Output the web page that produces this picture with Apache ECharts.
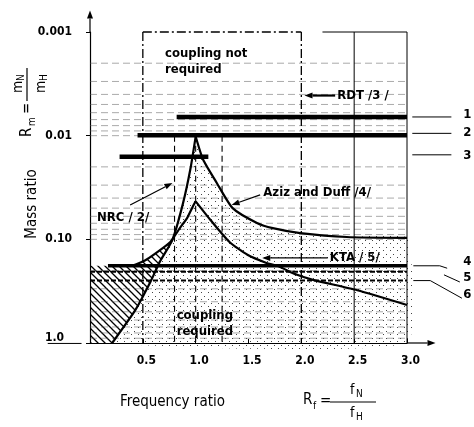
<!DOCTYPE html>
<html><head><meta charset="utf-8">
<script src="https://cdn.jsdelivr.net/npm/echarts/dist/echarts.min.js"></script>
<style>html,body{margin:0;padding:0;background:#fff}#c{width:474px;height:427px}</style>
</head><body><div id="c"></div>
<script>
// ---------------- data ----------------
const xTicks = [0.5, 1.0, 1.5, 2.0, 2.5, 3.0];
const yTicks = [0.001, 0.01, 0.1, 1.0];
const yTickLabels = ['0.001', '0.01', '0.10', '1.0'];

// horizontal criteria lines 1..6
const line1 = [[0.82, 0.0066], [3.0, 0.0066]];
const line2 = [[0.45, 0.0099], [3.0, 0.0099]];
const line3 = [[0.28, 0.016], [1.12, 0.016]];
const line4 = [[0.17, 0.18], [3.0, 0.18]];
const line5 = [[0.0, 0.205], [3.0, 0.205]];
const line6 = [[0.0, 0.25], [3.0, 0.25]];

// outer curve (NRC / Aziz and Duff)
const outerLeft = [[0.21, 1.0], [0.43, 0.48], [0.57, 0.26], [0.66, 0.165], [0.78, 0.101], [0.88, 0.045], [0.95, 0.021], [1.0, 0.0102]];
const outerRight = [[1.0, 0.0102], [1.07, 0.017], [1.20, 0.0286], [1.35, 0.050], [1.58, 0.0695], [1.73, 0.078], [1.99, 0.087], [2.43, 0.095], [3.0, 0.097]];
// inner curve (KTA)
const innerLeft = [[0.40, 0.18], [0.52, 0.16], [0.64, 0.132], [0.76, 0.106], [0.85, 0.078], [0.92, 0.062], [0.97, 0.049], [1.0, 0.043]];
const innerRight = [[1.0, 0.043], [1.14, 0.065], [1.32, 0.106], [1.49, 0.141], [1.67, 0.169], [1.77, 0.18], [1.96, 0.22], [2.11, 0.246], [2.53, 0.31], [3.0, 0.43]];

// hatched region boundary
const hatchPoly = [[0, 0.18], [0.40, 0.18], [0.52, 0.16], [0.64, 0.132], [0.77, 0.104], [0.66, 0.165], [0.57, 0.26], [0.43, 0.48], [0.21, 1.0], [0, 1.0]];

// log grid lines
const gridValues = [0.002, 0.003, 0.004, 0.005, 0.006, 0.007, 0.008, 0.009,
  0.01, 0.02, 0.03, 0.04, 0.05, 0.06, 0.07, 0.08, 0.09,
  0.1, 0.2, 0.3, 0.4, 0.5, 0.6, 0.7, 0.8, 0.9];
// vertical guide lines
const vDashDot = [0.5, 2.0];
const vThin = [2.5, 3.0];
const vDashed = [0.8, 1.0, 1.25];
const topDashDot = [[0.5, 0.001], [2.0, 0.001]];
const topThin = [[2.2, 0.001], [3.0, 0.001]];

// annotations
const noteTexts = ['coupling not', 'required', 'coupling', 'required', 'RDT /3 /', 'Aziz and Duff /4/', 'NRC / 2/', 'KTA / 5/'];
const notePos = [[0.71, 0.0016], [0.71, 0.0023], [0.82, 0.54], [0.82, 0.78], [2.34, 0.0041], [1.64, 0.0357], [0.066, 0.062], [2.27, 0.151]];
const arrows = [
  [[0.38, 0.0466], [0.78, 0.0286]],
  [[1.61, 0.0373], [1.34, 0.0466]],
  [[2.32, 0.0041], [2.03, 0.0041]],
  [[2.25, 0.151], [1.63, 0.151]],
  [[3.0, 1.0], [3.27, 1.0]],
  [[0, 0.001], [0, 0.00062]]
];
const numLabels = ['1', '2', '3', '4', '5', '6'];
const numPos = [[3.57, 0.0063], [3.57, 0.0094], [3.57, 0.0155], [3.57, 0.165], [3.57, 0.235], [3.57, 0.34]];
const leaders = [
  [[3.05, 0.0066], [3.42, 0.0066]],
  [[3.05, 0.0095], [3.42, 0.0095]],
  [[3.05, 0.0153], [3.42, 0.0153]],
  [[3.06, 0.18], [3.31, 0.18], [3.38, 0.19]],
  [[3.35, 0.22], [3.50, 0.258]],
  [[3.06, 0.25], [3.22, 0.25], [3.52, 0.37]],
  [[-0.40, 1.01], [-0.08, 1.01]]
];

// ---------------- rendering ----------------
const FONT = '"DejaVu Sans Condensed", "DejaVu Sans", sans-serif';

function makeHatch() {
  const c = document.createElement('canvas'); c.width = c.height = 7;
  const g = c.getContext('2d'); g.strokeStyle = '#000'; g.lineWidth = 1.3;
  g.beginPath(); g.moveTo(-1, -1); g.lineTo(8, 8); g.moveTo(-1, 6); g.lineTo(1, 8); g.moveTo(6, -1); g.lineTo(8, 1); g.stroke();
  return c;
}
function makeDots() {
  const c = document.createElement('canvas'); c.width = c.height = 7;
  const g = c.getContext('2d'); g.fillStyle = '#444';
  g.fillRect(1, 2, 1, 1); g.fillRect(5, 5, 1, 1);
  return c;
}
const hatchPattern = { image: makeHatch(), repeat: 'repeat' };
const dotPattern = { image: makeDots(), repeat: 'repeat' };
const stipplePoly = outerLeft.concat(outerRight.slice(1), [[3.0, 1.0]]);

function lineSeries(data, width, type, z) {
  return { type: 'line', data: data, symbol: 'none', silent: true, z: z || 5, animation: false,
    lineStyle: { color: '#000', width: width, type: type || 'solid' } };
}
function curveSeries(data) {
  return { type: 'line', data: data, symbol: 'none', silent: true, z: 6, animation: false, smooth: 0.2,
    lineStyle: { color: '#000', width: 2.2, join: 'round' } };
}
function txt(x, y, text, font, align, valign) {
  return { type: 'text', x: x, y: y, style: { text: text, font: font, fill: '#000',
    align: align || 'left', verticalAlign: valign || 'middle', textAlign: align || 'left', textVerticalAlign: valign || 'middle' } };
}
function arrowEls(api, from, to, w) {
  const p0 = api.coord(from), p1 = api.coord(to);
  const a = Math.atan2(p1[1] - p0[1], p1[0] - p0[0]);
  const L = 8, W = 3;
  const bx = p1[0] - L * Math.cos(a), by = p1[1] - L * Math.sin(a);
  return [
    { type: 'line', shape: { x1: p0[0], y1: p0[1], x2: bx, y2: by }, style: { stroke: '#000', lineWidth: w } },
    { type: 'polygon', shape: { points: [[p1[0], p1[1]], [bx + W * Math.sin(a), by - W * Math.cos(a)], [bx - W * Math.sin(a), by + W * Math.cos(a)]] }, style: { fill: '#000' } }
  ];
}

const chart = echarts.init(document.getElementById('c'));
chart.setOption({
  animation: false,
  backgroundColor: '#fff',
  grid: { left: 90, right: 67, top: 32, bottom: 84 },
  xAxis: {
    type: 'value', min: 0, max: 3.0, interval: 0.5,
    axisLine: { show: true, lineStyle: { color: '#000', width: 1.2 } },
    axisTick: { show: true, inside: true, length: 4, lineStyle: { color: '#000' } },
    splitLine: { show: false },
    axisLabel: { color: '#000', fontFamily: FONT, fontWeight: 'bold', fontSize: 12, margin: 12, padding: [0, 0, 0, 7],
      formatter: v => (xTicks.some(t => Math.abs(t - v) < 1e-6) ? v.toFixed(1) : '') }
  },
  yAxis: {
    type: 'log', logBase: 10, min: 0.001, max: 1, inverse: true,
    axisLine: { show: true, lineStyle: { color: '#000', width: 1.2 } },
    axisTick: { show: true, length: 4, lineStyle: { color: '#000' } },
    splitLine: { show: false },
    axisLabel: { color: '#000', fontFamily: FONT, fontWeight: 'bold', fontSize: 12, margin: 18,
      rich: { low: { fontFamily: FONT, fontWeight: 'bold', fontSize: 12, color: '#000', padding: [0, 8, 10, 0] } },
      formatter: v => { const i = yTicks.findIndex(t => Math.abs(Math.log10(t) - Math.log10(v)) < 1e-6);
        if (i < 0) return ''; return i === yTicks.length - 1 ? '{low|' + yTickLabels[i] + '}' : yTickLabels[i]; } }
  },
  graphic: [
    txt(120, 402, 'Frequency ratio', '15px ' + FONT),
    txt(303, 400, 'R', '15px ' + FONT),
    txt(313, 406, 'f', '10px ' + FONT),
    txt(320, 401, '=', '15px ' + FONT),
    { type: 'line', shape: { x1: 330, y1: 402, x2: 376, y2: 402 }, style: { stroke: '#000', lineWidth: 1.2 } },
    txt(350, 390, 'f', '14px ' + FONT), txt(356, 394, 'N', '10px ' + FONT),
    txt(350, 413, 'f', '14px ' + FONT), txt(356, 417, 'H', '10px ' + FONT),
    Object.assign(txt(32, 204, 'Mass ratio', '15px ' + FONT, 'center'), { rotation: Math.PI / 2 }),
    { type: 'group', x: 27, y: 137, rotation: Math.PI / 2, children: [
      txt(0, 0, 'R', '15px ' + FONT), txt(11, 5, 'm', '10px ' + FONT),
      txt(23, 0, '=', '15px ' + FONT),
      { type: 'line', shape: { x1: 36, y1: 0, x2: 69, y2: 0 }, style: { stroke: '#000', lineWidth: 1.2 } },
      txt(44, -9, 'm', '14px ' + FONT), txt(56, -6, 'N', '10px ' + FONT),
      txt(44, 14, 'm', '14px ' + FONT), txt(56, 17, 'H', '10px ' + FONT)
    ] }
  ],
  series: [
    { type: 'custom', coordinateSystem: 'cartesian2d', data: [[0, 0.01]], silent: true, z: 1, animation: false,
      renderItem: (p, api) => ({ type: 'polygon', shape: { points: stipplePoly.map(d => api.coord(d)), smooth: 0.15 }, style: { fill: dotPattern } }) },
    { type: 'custom', coordinateSystem: 'cartesian2d', data: [[0, 0.01]], silent: true, z: 1, animation: false,
      renderItem: (p, api) => ({ type: 'polygon', shape: { points: hatchPoly.map(d => api.coord(d)) }, style: { fill: hatchPattern } }) },
    { type: 'custom', coordinateSystem: 'cartesian2d', data: gridValues.map(v => [0, v]), silent: true, z: 2, animation: false,
      renderItem: (p, api) => { const v = api.value(1); const a = api.coord([0, v]), b = api.coord([3, v]);
        return { type: 'line', shape: { x1: a[0], y1: a[1], x2: b[0], y2: b[1] }, style: { stroke: '#555', lineWidth: 1, lineDash: [7, 4], opacity: 0.5 } }; } },
    { type: 'custom', coordinateSystem: 'cartesian2d', data: [[0, 0.01]], silent: true, z: 3, animation: false,
      renderItem: (p, api) => {
        const ch = [];
        vDashDot.forEach(x => { const a = api.coord([x, 0.001]), b = api.coord([x, 1]);
          ch.push({ type: 'line', shape: { x1: a[0], y1: a[1], x2: b[0], y2: b[1] }, style: { stroke: '#000', lineWidth: 1.3, lineDash: [9, 3, 2, 3] } }); });
        vThin.forEach(x => { const a = api.coord([x, 0.001]), b = api.coord([x, 1]);
          ch.push({ type: 'line', shape: { x1: a[0], y1: a[1], x2: b[0], y2: b[1] }, style: { stroke: '#000', lineWidth: 1 } }); });
        vDashed.forEach(x => { const a = api.coord([x, 0.01]), b = api.coord([x, 1]);
          ch.push({ type: 'line', shape: { x1: a[0], y1: a[1], x2: b[0], y2: b[1] }, style: { stroke: '#000', lineWidth: 1.1, lineDash: [6, 4] } }); });
        let a = api.coord(topDashDot[0]), b = api.coord(topDashDot[1]);
        ch.push({ type: 'line', shape: { x1: a[0], y1: a[1], x2: b[0], y2: b[1] }, style: { stroke: '#000', lineWidth: 1.3, lineDash: [9, 3, 2, 3] } });
        a = api.coord(topThin[0]); b = api.coord(topThin[1]);
        ch.push({ type: 'line', shape: { x1: a[0], y1: a[1], x2: b[0], y2: b[1] }, style: { stroke: '#000', lineWidth: 1 } });
        return { type: 'group', children: ch };
      } },
    lineSeries(line1, 4.5),
    lineSeries(line2, 4.5),
    lineSeries(line3, 4.5),
    lineSeries(line4, 3.5),
    lineSeries(line5, 2, [5, 2]),
    lineSeries(line6, 2, [5, 2]),
    curveSeries(outerLeft), curveSeries(outerRight), curveSeries(innerLeft), curveSeries(innerRight),
    { type: 'custom', coordinateSystem: 'cartesian2d', data: [[0, 0.01]], silent: true, z: 10, clip: false, animation: false,
      renderItem: (p, api) => {
        let ch = [];
        noteTexts.forEach((t, i) => { const q = api.coord(notePos[i]); ch.push(txt(q[0], q[1], t, 'bold 13px ' + FONT)); });
        numLabels.forEach((t, i) => { const q = api.coord(numPos[i]); ch.push(txt(q[0], q[1], t, 'bold 13px ' + FONT, 'center')); });
        arrows.forEach((ar, i) => { ch = ch.concat(arrowEls(api, ar[0], ar[1], i === 2 ? 2.2 : 1.2)); });
        leaders.forEach(ld => { ch.push({ type: 'polyline', shape: { points: ld.map(d => api.coord(d)) }, style: { stroke: '#000', lineWidth: 1, fill: 'none' } }); });
        return { type: 'group', children: ch };
      } }
  ]
});
</script></body></html>
